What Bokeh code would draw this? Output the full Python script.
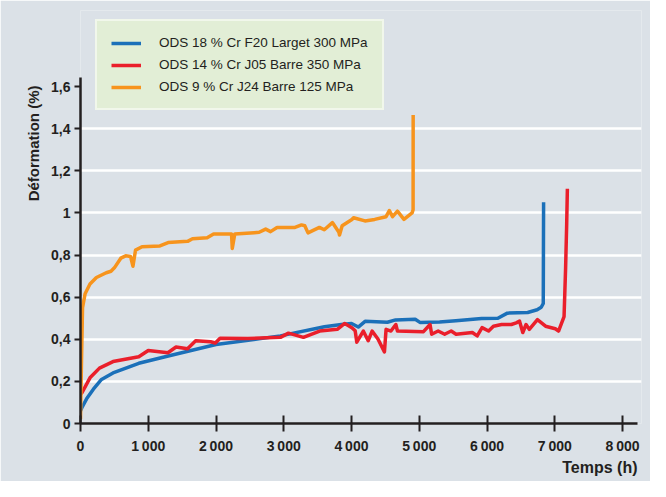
from bokeh.plotting import figure
from bokeh.models import (Range1d, FixedTicker, Legend, LegendItem, Title)
from bokeh.embed import file_html
from bokeh.resources import INLINE

# ---------------- data ----------------
blue_t = [0, 20, 90, 190, 310, 480, 860, 1340, 2000, 2950, 3600, 3850, 4000, 4100,
          4200, 4530, 4650, 4940, 5010, 5300, 5540, 5920, 6160, 6300, 6600, 6740,
          6800, 6830, 6835]
blue_v = [0.06, 0.075, 0.117, 0.163, 0.209, 0.240, 0.286, 0.324, 0.375, 0.416, 0.459,
          0.470, 0.475, 0.458, 0.485, 0.481, 0.492, 0.495, 0.480, 0.482, 0.488, 0.499,
          0.500, 0.524, 0.527, 0.540, 0.552, 0.570, 1.05]

red_t = [0, 20, 140, 280, 480, 860, 1000, 1290, 1410, 1580, 1700, 1920, 1990, 2060,
         2470, 2950, 3070, 3290, 3530, 3790, 3900, 4006, 4054, 4078, 4174, 4246, 4304,
         4390, 4486, 4510, 4582, 4654, 4678, 5062, 5159, 5183, 5279, 5375, 5471, 5543,
         5783, 5855, 5927, 6023, 6095, 6215, 6359, 6431, 6480, 6528, 6576, 6624, 6744,
         6864, 7008, 7056, 7137, 7160, 7176, 7186]
red_v = [0.14, 0.145, 0.217, 0.263, 0.294, 0.317, 0.347, 0.336, 0.363, 0.355, 0.393,
         0.388, 0.382, 0.405, 0.404, 0.409, 0.429, 0.409, 0.439, 0.447, 0.475, 0.455,
         0.440, 0.386, 0.439, 0.393, 0.439, 0.401, 0.340, 0.447, 0.439, 0.470, 0.439,
         0.436, 0.470, 0.424, 0.439, 0.424, 0.439, 0.424, 0.432, 0.416, 0.455, 0.439,
         0.462, 0.470, 0.470, 0.478, 0.486, 0.432, 0.470, 0.447, 0.493, 0.462, 0.450,
         0.439, 0.508, 0.740, 0.950, 1.115]

orange_t = [0, 15, 30, 68, 140, 235, 380, 450, 500, 595, 667, 739, 774, 812, 908, 1172,
            1293, 1581, 1653, 1869, 1964, 2229, 2240, 2277, 2565, 2637, 2733, 2805, 2901,
            3166, 3262, 3310, 3358, 3526, 3598, 3718, 3814, 3823, 3862, 4006, 4030, 4198,
            4342, 4510, 4558, 4606, 4678, 4774, 4894, 4909, 4910]
orange_v = [0.02, 0.30, 0.55, 0.616, 0.662, 0.693, 0.716, 0.723, 0.739, 0.785, 0.796,
            0.793, 0.747, 0.823, 0.839, 0.843, 0.859, 0.865, 0.877, 0.882, 0.900, 0.900,
            0.831, 0.900, 0.906, 0.908, 0.923, 0.911, 0.931, 0.931, 0.943, 0.939, 0.905,
            0.931, 0.920, 0.954, 0.908, 0.895, 0.939, 0.969, 0.977, 0.962, 0.969, 0.982,
            1.011, 0.982, 1.008, 0.969, 1.000, 1.015, 1.465]

series_labels = ["ODS 18 % Cr F20 Larget 300 MPa",
                 "ODS 14 % Cr J05 Barre 350 MPa",
                 "ODS 9 % Cr J24 Barre 125 MPa"]

x_ticks = [0, 1000, 2000, 3000, 4000, 5000, 6000, 7000, 8000]
x_tick_labels = ["0", "1\u2009000", "2\u2009000", "3\u2009000", "4\u2009000",
                 "5\u2009000", "6\u2009000", "7\u2009000", "8\u2009000"]
y_ticks = [0, 0.2, 0.4, 0.6, 0.8, 1, 1.2, 1.4, 1.6]
y_tick_labels = ["0", "0,2", "0,4", "0,6", "0,8", "1", "1,2", "1,4", "1,6"]
grid_ticks = [0.2, 0.4, 0.6, 0.8, 1, 1.2, 1.4]

# ---------------- style ----------------
BG = "#dbe1e7"
INK = "#231f20"
FONT = "Liberation Sans"
BLUE = "#1b70b9"
RED = "#ea1f2b"
ORANGE = "#f7941d"

p = figure(width=650, height=481, output_backend="svg", toolbar_location=None,
           x_range=Range1d(0, 8280), y_range=Range1d(0, 1.961),
           min_border_left=80, min_border_top=10, min_border_right=9,
           min_border_bottom=58)
p.background_fill_color = BG
p.border_fill_color = BG
p.outline_line_color = None

# grid
p.xgrid.grid_line_color = None
p.ygrid.ticker = FixedTicker(ticks=grid_ticks)
p.ygrid.grid_line_color = "white"
p.ygrid.grid_line_width = 2.5

# axes
for ax in (p.xaxis[0], p.yaxis[0]):
    ax.axis_line_color = INK
    ax.axis_line_width = 2.5
    ax.major_tick_line_color = INK
    ax.major_tick_line_width = 2
    ax.minor_tick_line_color = None
    ax.major_label_text_font = FONT
    ax.major_label_text_font_style = "bold"
    ax.major_label_text_font_size = "14px"
    ax.major_label_text_color = INK

p.xaxis.ticker = FixedTicker(ticks=x_ticks)
p.xaxis.major_label_overrides = {t: l for t, l in zip(x_ticks, x_tick_labels)}
p.xaxis.major_tick_in = 8
p.xaxis.major_tick_out = 8
p.xaxis.major_label_standoff = 6
p.xaxis.bounds = (0, 8221)

p.yaxis.ticker = FixedTicker(ticks=y_ticks)
p.yaxis.major_label_overrides = {t: l for t, l in zip(y_ticks, y_tick_labels)}
p.yaxis.major_tick_in = 0
p.yaxis.major_tick_out = 6
p.yaxis.major_label_standoff = 4
p.yaxis.bounds = (0, 1.641)

# axis titles
p.add_layout(Title(text="Temps (h)", align="right", text_font=FONT,
                   text_font_style="bold", text_font_size="16px",
                   text_color=INK, offset=4, standoff=0), "below")
p.add_layout(Title(text="Déformation (%)", align="right", text_font=FONT,
                   text_font_style="bold", text_font_size="15px",
                   text_color=INK, offset=75, standoff=14), "left")

# lines
r_blue = p.line(blue_t, blue_v, line_color=BLUE, line_width=3.5, line_join="round")
r_red = p.line(red_t, red_v, line_color=RED, line_width=3.5, line_join="round")
r_orange = p.line(orange_t, orange_v, line_color=ORANGE, line_width=3.5,
                  line_join="round")

legend = Legend(items=[LegendItem(label=series_labels[0], renderers=[r_blue]),
                       LegendItem(label=series_labels[1], renderers=[r_red]),
                       LegendItem(label=series_labels[2], renderers=[r_orange])],
                location=(15, 313), orientation="vertical",
                background_fill_color="#e2eed6", background_fill_alpha=1,
                border_line_color="white", border_line_width=2,
                padding=14, spacing=7, margin=0,
                glyph_width=30, glyph_height=14, label_height=14,
                label_standoff=18, label_text_font=FONT,
                label_text_font_size="13.5px", label_text_color=INK)
p.add_layout(legend, "center")

open("out.html", "w").write(file_html(p, INLINE))
